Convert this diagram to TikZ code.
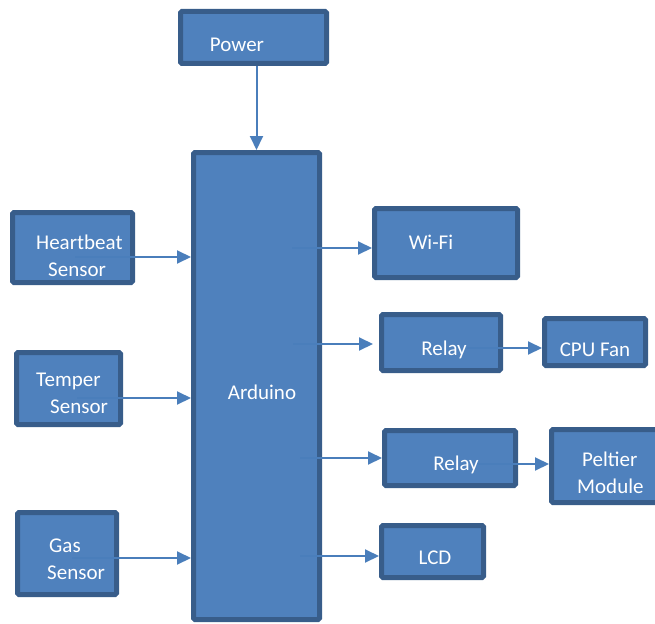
\documentclass[tikz,border=0pt]{standalone}
\usepackage{fontspec}
\setmainfont{Carlito}
\usetikzlibrary{arrows.meta}
\definecolor{boxfill}{HTML}{4F81BD}
\definecolor{boxline}{HTML}{385D8A}
\definecolor{arrcol}{HTML}{4A7EBB}
\tikzset{
  blk/.style={draw=boxline, fill=boxfill, line width=5pt, rounded corners=1.5pt, inner sep=0pt, outer sep=2.5pt},
  txt/.style={text=white, font=\fontsize{21}{27}\selectfont, inner sep=0pt, align=left},
  arr/.style={draw=arrcol, line width=2pt, -{Triangle[length=14pt,width=13pt]}}
}
\begin{document}
\begin{tikzpicture}[x=1pt,y=-1pt]
\useasboundingbox (0,0) rectangle (655,623);
% boxes (outer edges given, path inset by 2.5)
\node[blk, minimum width=146pt, minimum height=52pt] (pow) at (253.5,37.5) {};
\node[blk, minimum width=126pt, minimum height=467pt] (ard) at (256.5,386) {};
\node[blk, minimum width=120pt, minimum height=70pt] (hb) at (72.5,247.5) {};
\node[blk, minimum width=104pt, minimum height=72pt] (tmp) at (68.5,388.5) {};
\node[blk, minimum width=99pt, minimum height=82pt] (gas) at (67,553.5) {};
\node[blk, minimum width=143pt, minimum height=69pt] (wifi) at (446,243) {};
\node[blk, minimum width=119pt, minimum height=56pt] (rly1) at (441,342.5) {};
\node[blk, minimum width=101pt, minimum height=47pt] (fan) at (595,342) {};
\node[blk, minimum width=131pt, minimum height=55pt] (rly2) at (450,458) {};
\node[blk, minimum width=115pt, minimum height=73pt] (pel) at (609,466) {};
\node[blk, minimum width=102pt, minimum height=52pt] (lcd) at (432.5,551.5) {};
% texts
\node[txt, anchor=base] (tpow) at (237,52) {Power};
\node[txt, anchor=base] (tard) at (262,399) {Arduino};
\node[txt, anchor=base west] (thb) at (36,276) {Heartbeat\\\hspace*{12pt}Sensor};
\node[txt, anchor=base west] (ttmp) at (36,413) {Temper\\\hspace*{14pt}Sensor};
\node[txt, anchor=base west] (tgas) at (49,579) {Gas\\\hspace*{-2pt}Sensor};
\node[txt, anchor=base] (twifi) at (431,249) {Wi-Fi};
\node[txt, anchor=base] (trly1) at (444,355) {Relay};
\node[txt, anchor=base] (tfan) at (595,356) {CPU Fan};
\node[txt, anchor=base] (trly2) at (456,470) {Relay};
\node[txt, anchor=base west] (tpel) at (582,493) {Peltier\\\hspace*{-5pt}Module};
\node[txt, anchor=base] (tlcd) at (435,564) {LCD};
% arrow start points
\coordinate (shb) at (75,257);
\coordinate (stmp) at (77,398);
\coordinate (sgas) at (72,558);
\coordinate (swifi) at (292,248);
\coordinate (srly1) at (293,344);
\coordinate (sfan) at (467,348);
\coordinate (srly2) at (300,458);
\coordinate (spel) at (477,464);
\coordinate (slcd) at (300,556);
% arrows
\draw[arr] (ard.north |- pow.south) -- (ard.north);
\draw[arr] (shb) -- (ard.west |- shb);
\draw[arr] (stmp) -- (ard.west |- stmp);
\draw[arr] (sgas) -- (ard.west |- sgas);
\draw[arr] (swifi) -- (wifi.west |- swifi);
\draw[arr] (srly1) -- ([xshift=-6pt]rly1.west |- srly1);
\draw[arr] (sfan) -- (fan.west |- sfan);
\draw[arr] (srly2) -- (rly2.west |- srly2);
\draw[arr] (spel) -- (pel.west |- spel);
\draw[arr] (slcd) -- (lcd.west |- slcd);
\end{tikzpicture}
\end{document}
